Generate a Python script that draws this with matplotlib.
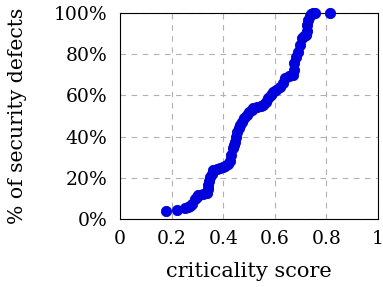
import matplotlib
matplotlib.use("Agg")
import matplotlib.pyplot as plt
from matplotlib.ticker import FuncFormatter

plt.rcParams['font.family'] = ['DejaVu Serif']

scores = [0.178, 0.22, 0.25, 0.262, 0.27, 0.28, 0.29, 0.297, 0.304, 0.32, 0.336, 0.34, 0.342, 0.345,
          0.349, 0.355, 0.362, 0.375, 0.388, 0.398, 0.407, 0.418, 0.426, 0.43, 0.437, 0.442, 0.446,
          0.449, 0.452, 0.46, 0.466, 0.472, 0.48, 0.491, 0.5, 0.51, 0.517, 0.53, 0.545, 0.556, 0.565,
          0.575, 0.585, 0.594, 0.605, 0.62, 0.63, 0.64, 0.655, 0.672, 0.674, 0.676, 0.684, 0.691,
          0.698, 0.704, 0.712, 0.721, 0.724, 0.726, 0.73, 0.735, 0.739, 0.748, 0.756, 0.814]
percent = [4.0, 4.4, 5.5, 6.0, 6.3, 7.5, 9.5, 10.5, 11.7, 12.3, 12.8, 14.5, 16.4, 18.5,
           20.5, 22.0, 23.8, 24.2, 24.6, 25.0, 25.7, 26.8, 28.3, 31.0, 34.3, 36.0, 37.5,
           40.0, 42.3, 44.0, 45.5, 47.2, 49.0, 50.5, 52.0, 53.0, 53.7, 54.5, 55.0, 55.3, 57.0,
           58.6, 60.2, 61.8, 62.8, 64.2, 66.0, 68.3, 69.2, 69.9, 72.5, 75.6, 78.5, 81.3,
           84.5, 87.8, 88.8, 89.4, 91.5, 94.3, 96.5, 98.5, 99.3, 100.0, 100.0, 100.0]

xticks = [0, 0.2, 0.4, 0.6, 0.8, 1]
xticklabels = ['0', '0.2', '0.4', '0.6', '0.8', '1']
yticks = [0, 20, 40, 60, 80, 100]

fig = plt.figure(figsize=(3.83, 2.87), dpi=100)
ax = fig.add_axes([0.3133, 0.237, 0.6737, 0.7177])
ax.scatter(scores, percent, s=55, color='#0000e6', edgecolors='#0000c8', linewidths=0.6,
           zorder=3, clip_on=False)
ax.set_xlim(0, 1)
ax.set_ylim(0, 100)
ax.set_xticks(xticks)
ax.set_xticklabels(xticklabels)
ax.set_yticks(yticks)
ax.yaxis.set_major_formatter(FuncFormatter(lambda v, p: f"{int(v)}%"))
ax.tick_params(length=0, labelsize=13.5)
ax.tick_params(axis='x', pad=8)
ax.tick_params(axis='y', pad=9)
ax.grid(True, linestyle=(0, (5, 5)), color='#b0b0b0', linewidth=0.8)
ax.set_axisbelow(True)
for sp in ax.spines.values():
    sp.set_linewidth(0.8)
    sp.set_color('black')
ax.set_xlabel('criticality score', fontsize=15, labelpad=10)
ax.set_ylabel('% of security defects', fontsize=14.7, labelpad=19)
fig.savefig('out.png', dpi=100)
